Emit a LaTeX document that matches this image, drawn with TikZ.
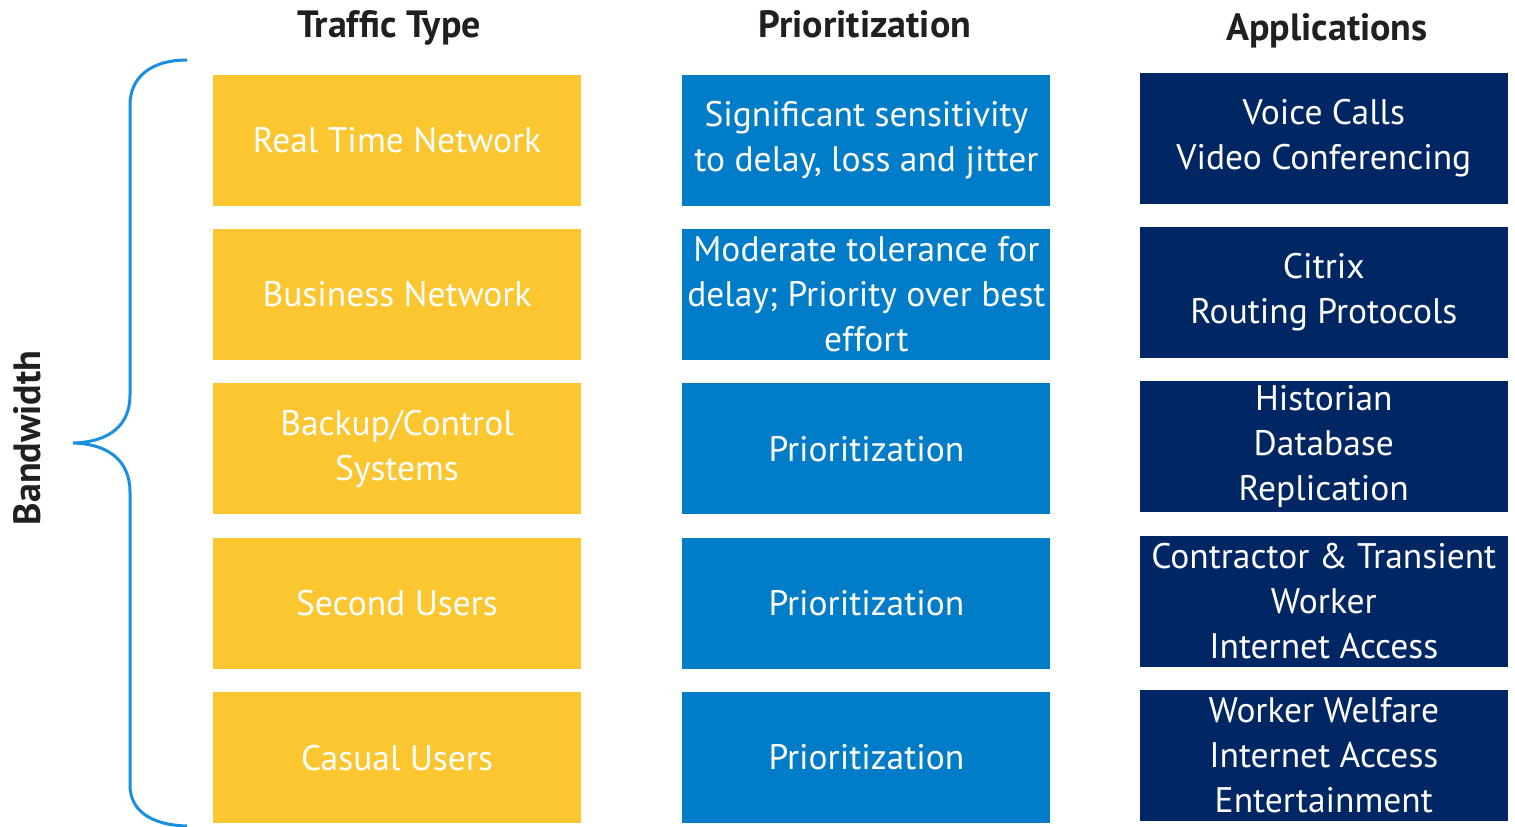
\documentclass[tikz,border=0pt]{standalone}
\usepackage{fontspec}
\setmainfont{PT Sans}
\usetikzlibrary{positioning}

\definecolor{trafficyellow}{RGB}{251,198,48}
\definecolor{prioblue}{RGB}{0,124,200}
\definecolor{appnavy}{RGB}{0,38,100}
\definecolor{bracecol}{RGB}{26,143,224}
\definecolor{headcol}{RGB}{35,31,32}

\tikzset{
  cellbox/.style={rectangle, minimum width=368pt, minimum height=131pt,
    inner sep=0pt, text=white, align=center,
    font=\fontsize{35.5}{45}\selectfont},
  trafficbox/.style={cellbox, fill=trafficyellow},
  priobox/.style={cellbox, fill=prioblue},
  appbox/.style={cellbox, fill=appnavy},
  header/.style={text=headcol, inner sep=0pt, font=\fontsize{38}{44}\selectfont\bfseries},
}

\begin{document}
\begin{tikzpicture}[x=1pt, y=-1pt, node distance=23pt]
  \useasboundingbox (0,0) rectangle (1515,827);

  % traffic type column
  \node [trafficbox] (t1) at (397,140) {Real Time Network};
  \node [trafficbox, below=of t1] (t2) {Business Network};
  \node [trafficbox, below=of t2] (t3) {Backup/Control\\Systems};
  \node [trafficbox, below=of t3] (t4) {Second Users};
  \node [trafficbox, below=of t4] (t5) {Casual Users};

  % prioritization column
  \node [priobox, right=101pt of t1] (p1) {Significant sensitivity\\to delay, loss and jitter};
  \node [priobox, right=101pt of t2] (p2) {Moderate tolerance for\\delay; Priority over best\\effort};
  \node [priobox, right=101pt of t3] (p3) {Prioritization};
  \node [priobox, right=101pt of t4] (p4) {Prioritization};
  \node [priobox, right=101pt of t5] (p5) {Prioritization};

  % applications column
  \node [appbox, right=89pt of p1, yshift=2pt] (a1) {Voice Calls\\Video Conferencing};
  \node [appbox, right=89pt of p2, yshift=2pt] (a2) {Citrix\\Routing Protocols};
  \node [appbox, right=89pt of p3, yshift=2pt] (a3) {Historian\\Database\\Replication};
  \node [appbox, right=89pt of p4, yshift=2pt] (a4) {Contractor \& Transient\\Worker\\Internet Access};
  \node [appbox, right=89pt of p5, yshift=2pt] (a5) {Worker Welfare\\Internet Access\\Entertainment};

  % headers
  \node [header, anchor=base] (h1) at (389,37) {Traffic Type};
  \node [header, anchor=base] (h2) at (865,37) {Prioritization};
  \node [header, anchor=base] (h3) at (1327,40) {Applications};

  % brace and label
  \draw [bracecol, line width=3pt]
    (187,60) .. controls (150,60) and (130,78) .. (130,105) -- (130,395)
    .. controls (130,425) and (110,442) .. (73,443)
    .. controls (110,444) and (130,462) .. (130,492) -- (130,785)
    .. controls (130,810) and (150,825) .. (187,826);
  \node [header, rotate=90] (bw) at (27,438) {Bandwidth};
\end{tikzpicture}
\end{document}
